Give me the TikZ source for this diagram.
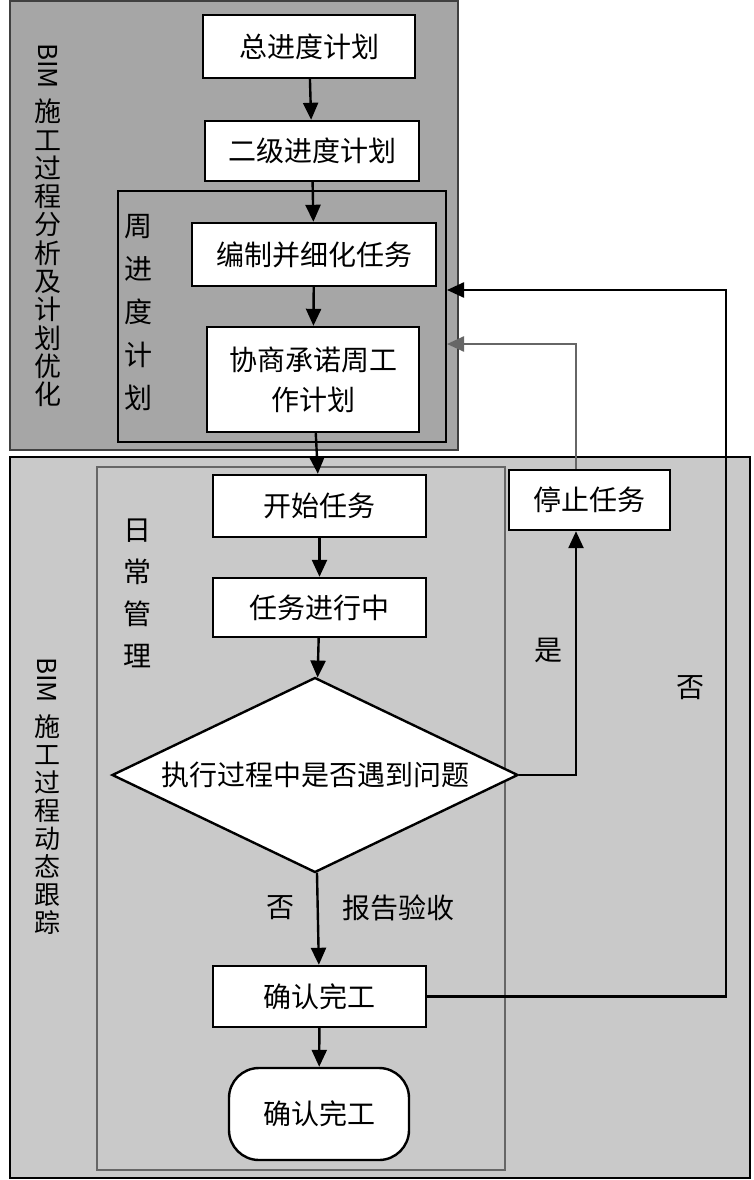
\documentclass[tikz,border=0pt]{standalone}
\usepackage{fontspec}
\setmainfont{Noto Sans CJK SC}
\usetikzlibrary{shapes.geometric,arrows.meta}
\definecolor{topgray}{gray}{0.65}
\definecolor{botgray}{gray}{0.79}
\tikzset{
  box/.style={draw,line width=2.4pt,fill=white,inner sep=0pt,align=center,font=\fontsize{28}{40}\selectfont},
  lbl/.style={inner sep=0pt,font=\fontsize{28}{34}\selectfont},
  vstack/.style={inner sep=0pt,align=center,font=\fontsize{28}{43}\selectfont},
  flow/.style={line width=2.4pt,-{Triangle[length=17pt,width=15pt]}}
}
\begin{document}
\begin{tikzpicture}[x=1pt,y=-1pt]
\useasboundingbox (0,0) rectangle (753,1180);
% panels
\filldraw[fill=topgray,draw=black!75,line width=2.4pt] (10,1) rectangle (458,450);
\filldraw[fill=topgray,draw=black,line width=2.4pt] (118,191) rectangle (446,442);
\filldraw[fill=botgray,draw=black,line width=2.4pt] (10,457) rectangle (750,1178);
\filldraw[fill=botgray,draw=black!60,line width=2.4pt] (97,467) rectangle (505,1170);
% side labels
\node[lbl,rotate=-90,font=\fontsize{26}{30}\selectfont] (bimA) at (48,66) {BIM};
\node[inner sep=0pt,align=center,font=\fontsize{27}{28.3}\selectfont] (lblA) at (48,253) {施\\工\\过\\程\\分\\析\\及\\计\\划\\优\\化};
\node[vstack] (week) at (138,313) {周\\进\\度\\计\\划};
\node[lbl,rotate=-90,font=\fontsize{26}{30}\selectfont] (bimB) at (47,680) {BIM};
\node[inner sep=0pt,align=center,font=\fontsize{26}{28}\selectfont] (lblB) at (47,825) {施\\工\\过\\程\\动\\态\\跟\\踪};
\node[inner sep=0pt,align=center,font=\fontsize{28}{42}\selectfont] (daily) at (137,593) {日\\常\\管\\理};
% boxes
\node[box,minimum width=212pt,minimum height=63pt] (tot) at (309,46.5) {总进度计划};
\node[box,minimum width=214pt,minimum height=60pt] (sec) at (312,151) {二级进度计划};
\node[box,minimum width=244pt,minimum height=63pt] (comp) at (314,254.5) {编制并细化任务};
\node[box,minimum width=212pt,minimum height=105pt] (neg) at (313,379.5) {协商承诺周工\\作计划};
\node[box,minimum width=213pt,minimum height=62pt] (start) at (319.5,506) {开始任务};
\node[box,minimum width=213pt,minimum height=59pt] (prog) at (319.5,607.5) {任务进行中};
\node[box,diamond,aspect=2.08,minimum width=406pt,minimum height=195pt] (chk) at (315,775) {执行过程中是否遇到问题};
\node[box,minimum width=213pt,minimum height=61pt] (done) at (319.5,996.5) {确认完工};
\node[box,rounded corners=30pt,minimum width=180pt,minimum height=92pt] (fin) at (319,1114) {确认完工};
\node[box,minimum width=161pt,minimum height=60pt] (stop) at (589.5,500) {停止任务};
% labels
\node[lbl] (yes) at (548,650) {是};
\node[lbl] (noA) at (690,688) {否};
\node[lbl] (noB) at (280,908) {否};
\node[lbl] (rep) at (398,908) {报告验收};
\coordinate (yesX) at (576,0);
\coordinate (noX) at (726,0);
\coordinate (stopIn) at (447,344);
\coordinate (backIn) at (447,290);
% connectors
\draw[flow] (tot) -- (sec);
\draw[flow] (sec) -- (comp);
\draw[flow] (comp) -- (neg);
\draw[flow] (neg) -- (start);
\draw[flow] (start) -- (prog);
\draw[flow] (prog) -- (chk);
\draw[flow] (chk) -- (done);
\draw[flow] (done) -- (fin);
\draw[flow] (chk.east) -| (stop.south -| yesX);
\draw[flow,draw=black!60] (stop.north -| yesX) |- (stopIn);
\draw[flow] (done.east) -| (backIn -| noX) -- (backIn);
\end{tikzpicture}
\end{document}
